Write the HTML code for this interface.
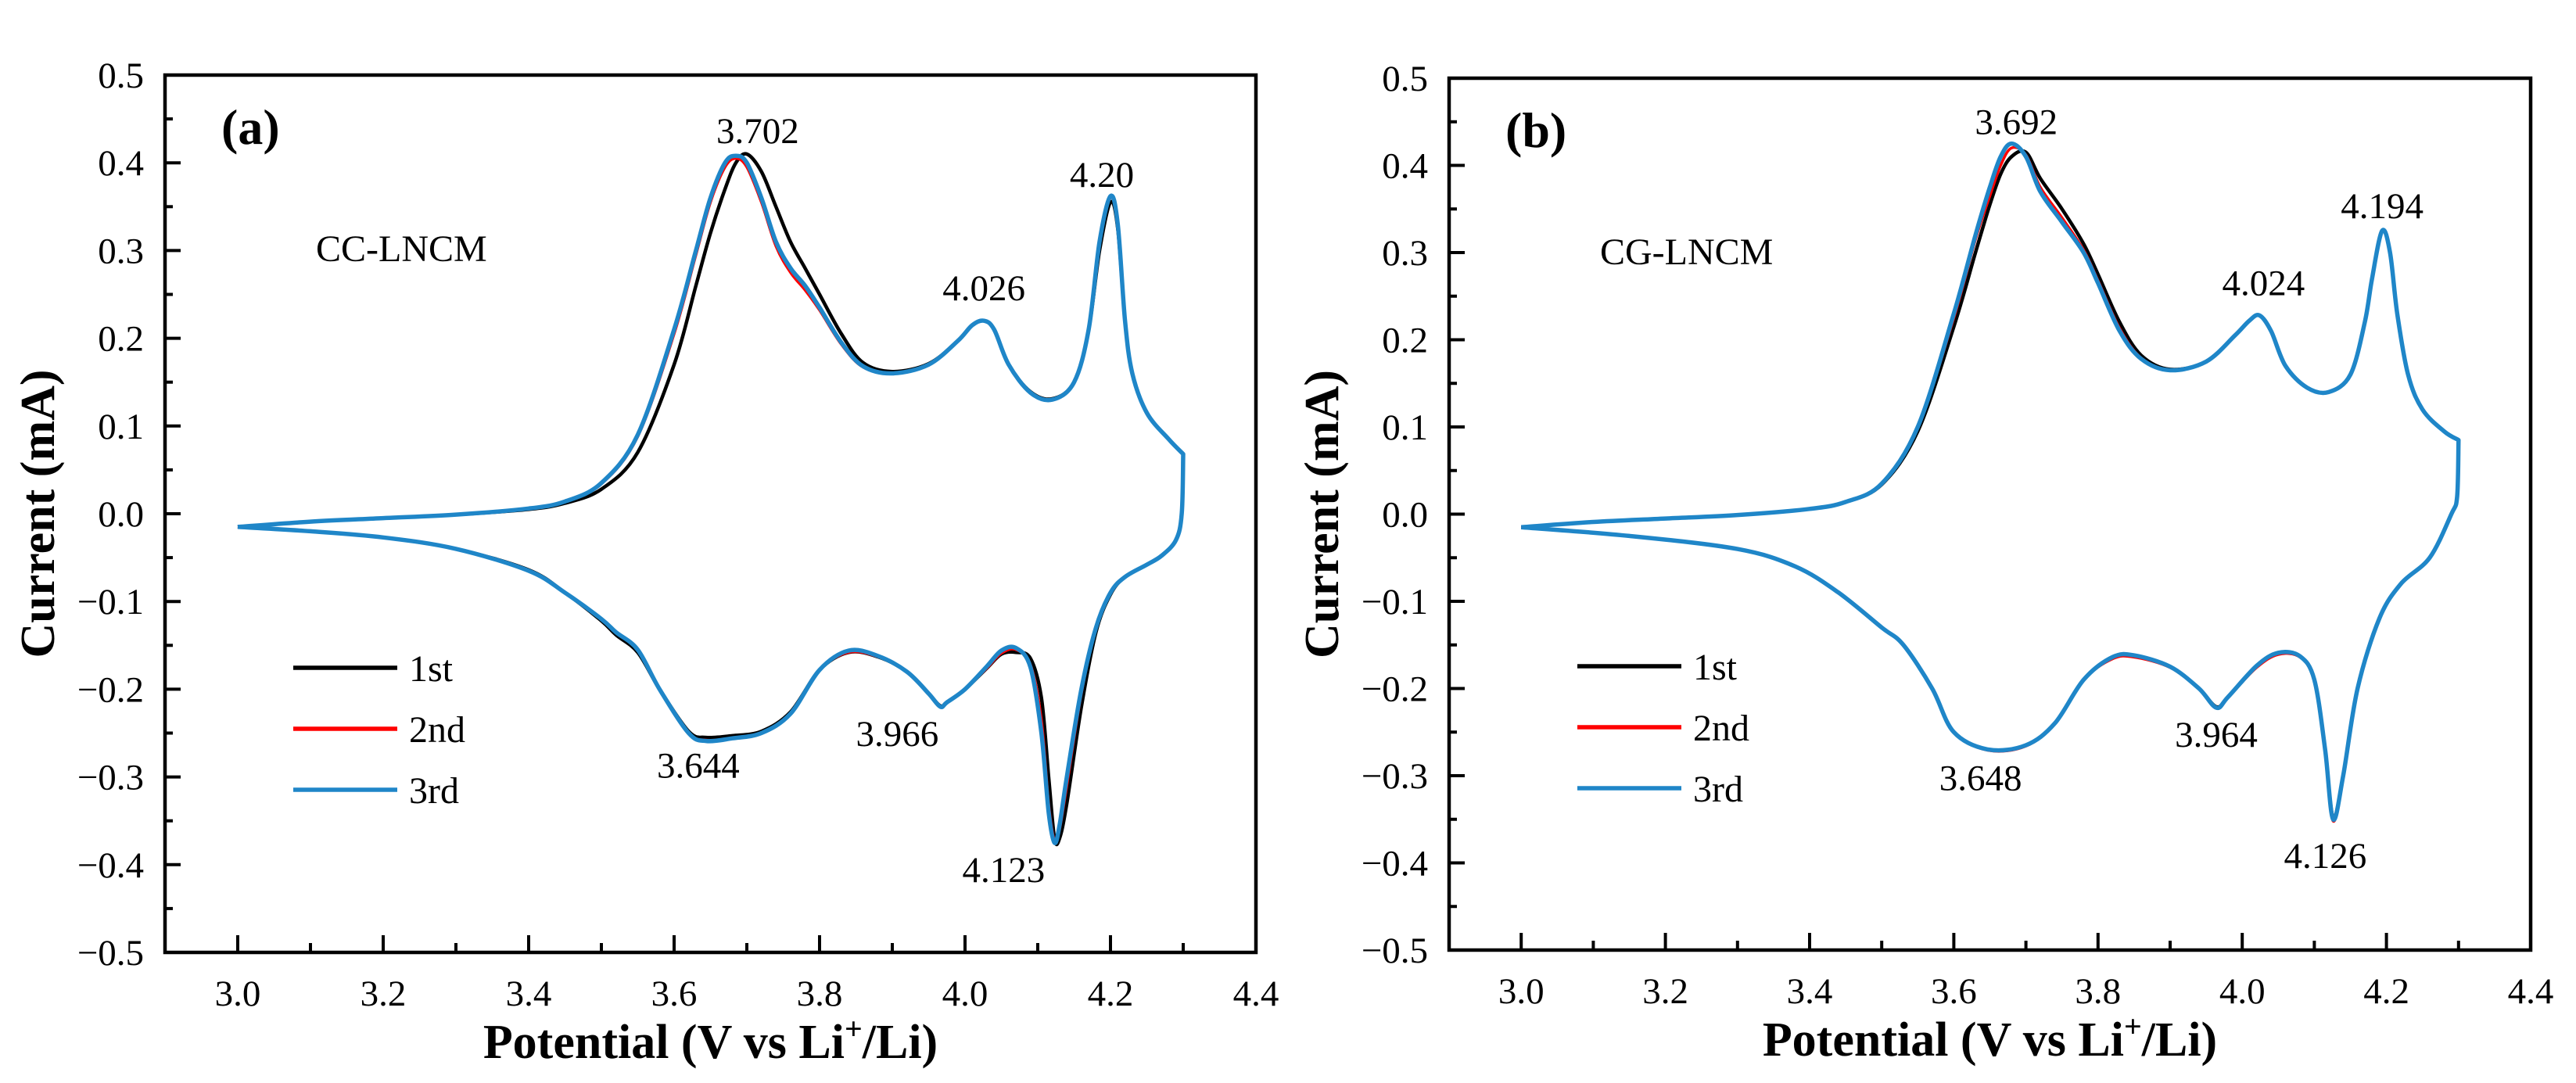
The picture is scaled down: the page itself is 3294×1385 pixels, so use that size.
<!DOCTYPE html>
<html><head><meta charset="utf-8">
<style>
html,body{margin:0;padding:0;background:#fff;}
svg{display:block;}
text{font-family:"Liberation Serif","Times New Roman",serif;fill:#000;}
</style></head>
<body>
<svg id="fig" width="3294" height="1385" viewBox="0 0 3294 1385" xmlns="http://www.w3.org/2000/svg">
<rect width="3294" height="1385" fill="#fff"/>
</svg>
<script>
// ---------- data ----------
const xTicks = [3.0,3.2,3.4,3.6,3.8,4.0,4.2,4.4];
const yTicks = [0.5,0.4,0.3,0.2,0.1,0.0,-0.1,-0.2,-0.3,-0.4,-0.5];
const cycleNames = ["1st","2nd","3rd"];

// Panel (a) CC-LNCM
const aAnV = [3.0,3.1,3.2,3.3,3.4,3.45,3.5,3.55,3.6,3.63,3.65,3.67,3.685,3.70,3.72,3.74,3.76,3.78,3.80,3.83,3.86,3.90,3.95,3.99,4.01,4.026,4.04,4.06,4.09,4.12,4.15,4.17,4.185,4.20,4.21,4.22,4.23,4.25,4.28,4.30];
const aAn1 = [-0.015,-0.009,-0.005,-0.001,0.005,0.012,0.028,0.07,0.17,0.26,0.32,0.37,0.40,0.41,0.39,0.35,0.31,0.28,0.25,0.205,0.172,0.162,0.171,0.197,0.215,0.22,0.21,0.17,0.139,0.131,0.15,0.21,0.30,0.355,0.325,0.22,0.16,0.115,0.085,0.068];
const aAn2 = [-0.015,-0.009,-0.005,-0.001,0.006,0.014,0.034,0.088,0.205,0.295,0.355,0.395,0.405,0.395,0.355,0.305,0.275,0.255,0.232,0.193,0.167,0.16,0.17,0.197,0.215,0.22,0.21,0.17,0.138,0.13,0.15,0.21,0.31,0.36,0.33,0.22,0.16,0.115,0.085,0.068];
const aAn3 = [-0.015,-0.009,-0.005,-0.001,0.006,0.014,0.035,0.09,0.21,0.30,0.36,0.40,0.408,0.40,0.36,0.31,0.28,0.26,0.235,0.195,0.168,0.16,0.17,0.197,0.215,0.22,0.21,0.17,0.138,0.13,0.15,0.21,0.31,0.362,0.33,0.22,0.16,0.115,0.085,0.068];
const aCaV = [4.30,4.298,4.29,4.27,4.25,4.22,4.20,4.18,4.16,4.14,4.13,4.123,4.115,4.105,4.09,4.07,4.05,4.03,4.00,3.975,3.966,3.95,3.92,3.88,3.84,3.80,3.76,3.72,3.68,3.644,3.62,3.58,3.55,3.52,3.50,3.45,3.40,3.30,3.20,3.10,3.0];
const aCa1 = [0.068,0.0,-0.03,-0.048,-0.058,-0.072,-0.092,-0.135,-0.22,-0.33,-0.37,-0.37,-0.30,-0.21,-0.165,-0.158,-0.16,-0.176,-0.2,-0.215,-0.219,-0.205,-0.18,-0.163,-0.158,-0.178,-0.226,-0.248,-0.253,-0.255,-0.248,-0.2,-0.158,-0.138,-0.122,-0.09,-0.064,-0.04,-0.027,-0.02,-0.015];
const aCa2 = [0.068,0.0,-0.03,-0.048,-0.058,-0.072,-0.09,-0.13,-0.205,-0.31,-0.36,-0.372,-0.33,-0.235,-0.172,-0.155,-0.159,-0.176,-0.2,-0.215,-0.22,-0.205,-0.18,-0.163,-0.158,-0.178,-0.228,-0.25,-0.256,-0.258,-0.25,-0.2,-0.155,-0.135,-0.12,-0.09,-0.065,-0.04,-0.027,-0.02,-0.015];
const aCa3 = [0.068,0.0,-0.03,-0.048,-0.058,-0.072,-0.09,-0.13,-0.2,-0.3,-0.355,-0.375,-0.34,-0.25,-0.175,-0.153,-0.156,-0.174,-0.2,-0.215,-0.22,-0.205,-0.18,-0.162,-0.156,-0.178,-0.228,-0.25,-0.256,-0.259,-0.25,-0.2,-0.155,-0.135,-0.12,-0.09,-0.065,-0.04,-0.027,-0.02,-0.015];

// Panel (b) CG-LNCM
const bAnV = [3.0,3.1,3.2,3.3,3.4,3.45,3.5,3.55,3.6,3.63,3.65,3.665,3.68,3.70,3.72,3.75,3.78,3.80,3.83,3.86,3.90,3.95,3.99,4.01,4.024,4.04,4.06,4.09,4.12,4.15,4.17,4.18,4.194,4.205,4.215,4.23,4.25,4.28,4.30];
const bAn1 = [-0.015,-0.009,-0.005,-0.001,0.006,0.014,0.034,0.095,0.215,0.30,0.355,0.39,0.41,0.415,0.385,0.35,0.31,0.275,0.22,0.182,0.166,0.175,0.205,0.222,0.228,0.21,0.17,0.145,0.14,0.16,0.22,0.27,0.325,0.3,0.23,0.16,0.12,0.095,0.085];
const bAn2 = [-0.015,-0.009,-0.005,-0.001,0.006,0.014,0.035,0.1,0.225,0.315,0.365,0.40,0.42,0.412,0.375,0.34,0.303,0.268,0.213,0.179,0.165,0.175,0.205,0.222,0.228,0.21,0.17,0.145,0.14,0.16,0.22,0.27,0.325,0.3,0.23,0.16,0.12,0.095,0.085];
const bAn3 = [-0.015,-0.009,-0.005,-0.001,0.006,0.014,0.035,0.1,0.23,0.32,0.375,0.41,0.425,0.41,0.37,0.335,0.3,0.265,0.21,0.178,0.165,0.175,0.205,0.222,0.228,0.21,0.17,0.145,0.14,0.16,0.22,0.27,0.325,0.3,0.23,0.16,0.12,0.095,0.085];
const bCaV = [4.30,4.298,4.29,4.26,4.22,4.19,4.16,4.14,4.126,4.115,4.10,4.08,4.05,4.02,3.98,3.964,3.94,3.90,3.85,3.82,3.78,3.74,3.70,3.648,3.60,3.57,3.53,3.50,3.44,3.38,3.30,3.15,3.0];
const bCa1 = [0.085,0.02,0.0,-0.05,-0.08,-0.12,-0.2,-0.3,-0.348,-0.27,-0.19,-0.163,-0.16,-0.175,-0.21,-0.221,-0.2,-0.175,-0.163,-0.165,-0.19,-0.24,-0.265,-0.27,-0.25,-0.2,-0.15,-0.13,-0.09,-0.06,-0.04,-0.025,-0.015];
const bCa2 = [0.085,0.02,0.0,-0.05,-0.08,-0.12,-0.2,-0.3,-0.352,-0.272,-0.19,-0.164,-0.161,-0.176,-0.21,-0.222,-0.2,-0.176,-0.164,-0.166,-0.19,-0.24,-0.266,-0.271,-0.25,-0.2,-0.15,-0.13,-0.09,-0.06,-0.04,-0.025,-0.015];
const bCa3 = [0.085,0.02,0.0,-0.05,-0.08,-0.12,-0.2,-0.3,-0.35,-0.27,-0.19,-0.163,-0.159,-0.174,-0.21,-0.222,-0.2,-0.175,-0.162,-0.164,-0.19,-0.24,-0.265,-0.27,-0.25,-0.2,-0.15,-0.13,-0.09,-0.06,-0.04,-0.025,-0.015];

const aPeakLabels = ["3.702","4.026","4.20","3.644","3.966","4.123"];
const aPeakV = [3.702,4.026,4.20,3.644,3.966,4.123];
const aPeakI = [0.41,0.22,0.362,-0.258,-0.22,-0.375];
const bPeakLabels = ["3.692","4.024","4.194","3.648","3.964","4.126"];
const bPeakV = [3.692,4.024,4.194,3.648,3.964,4.126];
const bPeakI = [0.425,0.228,0.325,-0.27,-0.222,-0.35];

// ---------- drawing ----------
const NS = "http://www.w3.org/2000/svg";
const svg = document.getElementById("fig");
function mk(tag, attrs, parent){
  const e = document.createElementNS(NS, tag);
  for (const k in attrs) e.setAttribute(k, attrs[k]);
  (parent||svg).appendChild(e);
  return e;
}
function smoothPath(pts, cont){
  let d = (cont ? " L" : "M") + pts[0][0].toFixed(1) + "," + pts[0][1].toFixed(1);
  for (let i=0;i<pts.length-1;i++){
    const p0 = pts[Math.max(0,i-1)], p1 = pts[i], p2 = pts[i+1], p3 = pts[Math.min(pts.length-1,i+2)];
    const c1x = p1[0]+(p2[0]-p0[0])/6, c1y = p1[1]+(p2[1]-p0[1])/6;
    const c2x = p2[0]-(p3[0]-p1[0])/6, c2y = p2[1]-(p3[1]-p1[1])/6;
    d += " C"+c1x.toFixed(1)+","+c1y.toFixed(1)+" "+c2x.toFixed(1)+","+c2y.toFixed(1)+" "+p2[0].toFixed(1)+","+p2[1].toFixed(1);
  }
  return d;
}

const colors = ["#000000","#ff0000","#1f86c8"];
const widths = [4.5,3.5,5.5];

function panel(cfg){
  const g = mk("g", {});
  
  
  const L=cfg.L, R=cfg.R, T=cfg.T, B=cfg.B;
  const sx = v => L + (v-2.9)/(4.4-2.9)*(R-L);
  const sy = v => T + (0.5-v)/(1.0)*(B-T);

  const series = [[cfg.an[0],cfg.ca[0]],[cfg.an[1],cfg.ca[1]],[cfg.an[2],cfg.ca[2]]];
  series.forEach((s,ci)=>{
    const ptsA = cfg.anV.map((v,i)=>[sx(v),sy(s[0][i])]);
    const ptsC = cfg.caV.map((v,i)=>[sx(v),sy(s[1][i])]);
    const d = smoothPath(ptsA,false) + smoothPath(ptsC,true);
    const p = mk("path",{d:d,fill:"none",stroke:colors[ci],"stroke-width":widths[ci],"stroke-linejoin":"round"},g);
    
    
  });

  const fr = mk("path",{d:`M${L},${T} H${R} V${B} H${L} Z`,fill:"none",stroke:"#000","stroke-width":4.5},g);
  
  

  xTicks.forEach(v=>{
    const x=sx(v);
    if (v<4.39) mk("line",{x1:x,y1:B,x2:x,y2:B-22,stroke:"#000","stroke-width":4},g);
    const t = mk("text",{x:x,y:B+68,"font-size":47,"text-anchor":"middle"},g);
    t.textContent = v.toFixed(1);
    
    
    if (v<4.3) mk("line",{x1:sx(v+0.1),y1:B,x2:sx(v+0.1),y2:B-12,stroke:"#000","stroke-width":4},g);
  });
  yTicks.forEach(v=>{
    const y=sy(v);
    mk("line",{x1:L,y1:y,x2:L+20,y2:y,stroke:"#000","stroke-width":4},g);
    if (v>-0.45) mk("line",{x1:L,y1:sy(v-0.05),x2:L+10,y2:sy(v-0.05),stroke:"#000","stroke-width":4},g);
    const t = mk("text",{x:L-27,y:y+16,"font-size":47,"text-anchor":"end"},g);
    t.textContent = (v<0?"\u2212":"") + Math.abs(v).toFixed(1);
    
    
  });

  const xt = mk("text",{x:(L+R)/2,y:B+135,"font-size":62,"font-weight":"bold","text-anchor":"middle"},g);
  
  
  xt.appendChild(document.createTextNode("Potential (V vs Li"));
  const sup = mk("tspan",{"font-size":40,dy:-24},xt); sup.textContent="+";
  const rest = mk("tspan",{"font-size":62,dy:24},xt); rest.textContent="/Li)";
  const yt = mk("text",{x:0,y:0,"font-size":62,"font-weight":"bold","text-anchor":"middle",transform:`translate(${L-142},${(T+B)/2}) rotate(-90)`},g);
  yt.textContent="Current (mA)";
  
  

  const pl = mk("text",{x:L+72,y:T+88,"font-size":64,"font-weight":"bold"},g);
  pl.textContent = cfg.letter;
  
  
  const sn = mk("text",{x:L+193,y:T+238,"font-size":48},g);
  sn.textContent = cfg.sample;
  
  

  cfg.pLab.forEach((lab,i)=>{
    const v=cfg.pV[i], c=cfg.pI[i];
    const above = c>0;
    const dx = cfg.pDx[i];
    const y = above ? sy(c)-cfg.pGap[i] : sy(c)+cfg.pGap[i];
    const t = mk("text",{x:sx(v)+dx,y:y,"font-size":47,"text-anchor":"middle"},g);
    t.textContent = lab;
    
    
  });

  cycleNames.forEach((n,i)=>{
    const y = cfg.legY + i*78;
    const ln = mk("line",{x1:L+164,y1:y,x2:L+297,y2:y,stroke:colors[i],"stroke-width":5.5},g);
    
    
    const t = mk("text",{x:L+312,y:y+17,"font-size":48},g);
    t.textContent = n;
    
    
  });
}

panel({name:"panel-a",L:211,R:1606,T:96,B:1218,letter:"(a)",sample:"CC-LNCM",
  anV:aAnV,caV:aCaV,an:[aAn1,aAn2,aAn3],ca:[aCa1,aCa2,aCa3],
  pLab:aPeakLabels,pV:aPeakV,pI:aPeakI,
  pDx:[12,0,-11,-10,-55,-65],pGap:[14,26,12,48,50,50],legY:854});
panel({name:"panel-b",L:1853,R:3236,T:100,B:1215,letter:"(b)",sample:"CG-LNCM",
  anV:bAnV,caV:bCaV,an:[bAn1,bAn2,bAn3],ca:[bCa1,bCa2,bCa3],
  pLab:bPeakLabels,pV:bPeakV,pI:bPeakI,
  pDx:[-5,5,0,-10,0,-10],pGap:[12,26,16,52,50,62],legY:852});
</script>
</body></html>
